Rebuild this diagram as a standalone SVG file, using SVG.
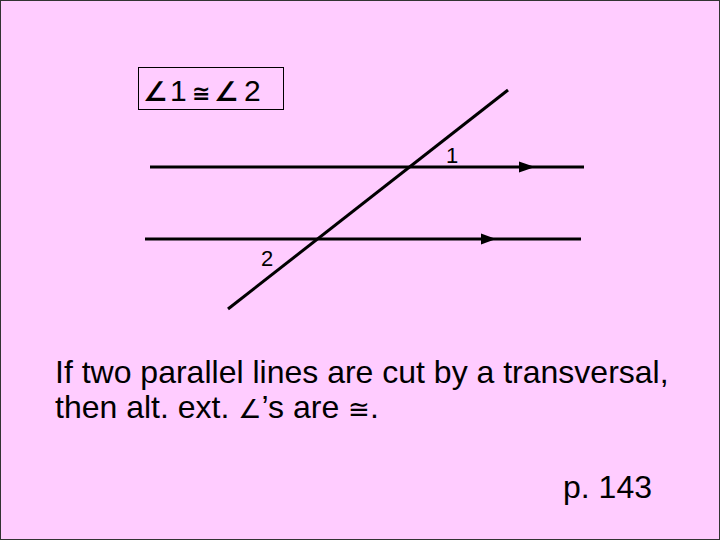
<svg xmlns="http://www.w3.org/2000/svg" width="720" height="540" viewBox="0 0 720 540">
<style>
.t{font-family:"Liberation Sans",Arial,sans-serif;fill:#000}
.ln{stroke:#000;stroke-width:3;fill:none}
.sym{font-family:"DejaVu Sans",sans-serif}
</style>
<rect x="0.5" y="0.5" width="719" height="539" fill="#FFCCFF" stroke="#333" stroke-width="1"/>
<g id="box">
<rect x="138.5" y="67.5" width="145" height="42" fill="none" stroke="#000" stroke-width="1"/>
<text class="t" y="101" font-size="30"><tspan class="sym" font-weight="bold" x="143" font-size="27">∠</tspan><tspan x="170">1</tspan><tspan class="sym" x="192" font-size="22" font-weight="bold">≅</tspan><tspan class="sym" font-weight="bold" x="214" font-size="27">∠</tspan><tspan x="244">2</tspan></text>
</g>
<g id="connectors">
<line class="ln" x1="150" y1="167" x2="584" y2="167"/>
<polygon points="519,161.5 535,167 519,172.5" fill="#000"/>
<line class="ln" x1="145" y1="239" x2="581" y2="239"/>
<polygon points="481,233.5 496,239 481,244.5" fill="#000"/>
<line class="ln" x1="508" y1="90" x2="228" y2="309"/>
</g>
<g id="labels">
<text class="t" x="446" y="163" font-size="22">1</text>
<text class="t" x="261" y="266" font-size="22">2</text>
</g>
<g id="caption">
<text class="t" x="55" y="383" font-size="32">If two parallel lines are cut by a transversal,</text>
<text class="t" x="55" y="418" font-size="32">then alt. ext. <tspan class="sym" font-size="26">∠</tspan>’s are <tspan class="sym" font-size="26">≅</tspan>.</text>
<text class="t" x="563" y="498" font-size="32">p. 143</text>
</g>
</svg>
